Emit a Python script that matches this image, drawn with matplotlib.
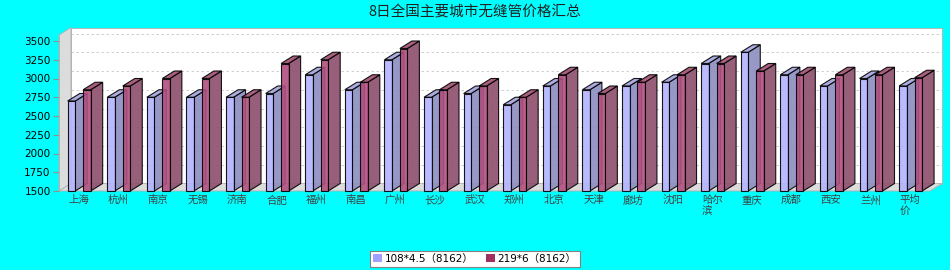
import matplotlib
matplotlib.use("Agg")
import matplotlib.pyplot as plt
from matplotlib.patches import Polygon, Patch

plt.rcParams['font.family'] = ['DejaVu Sans', 'Noto Sans CJK SC']

categories = ["上海", "杭州", "南京", "无锡", "济南", "合肥", "福州", "南昌", "广州", "长沙",
              "武汉", "郑州", "北京", "天津", "廊坊", "沈阳", "哈尔\n滨", "重庆", "成都", "西安",
              "兰州", "平均\n价"]
series1 = [2700, 2750, 2750, 2750, 2750, 2800, 3050, 2850, 3250, 2750,
           2800, 2650, 2900, 2850, 2900, 2950, 3200, 3350, 3050, 2900,
           3000, 2900]
series2 = [2850, 2900, 3000, 3000, 2750, 3200, 3250, 2950, 3400, 2850,
           2900, 2750, 3050, 2800, 2950, 3050, 3200, 3100, 3050, 3050,
           3050, 3010]
series_names = ["108*4.5（8162）", "219*6（8162）"]
yticks = [1500, 1750, 2000, 2250, 2500, 2750, 3000, 3250, 3500]
title = "8日全国主要城市无缝管价格汇总"

W, H = 950, 270
fig = plt.figure(figsize=(W / 100, H / 100), dpi=100)
fig.patch.set_facecolor("#00ffff")

ax_l, ax_r, ax_b, ax_t = 59, 930, 191, 35
ax = fig.add_axes([ax_l / W, (H - ax_b) / H, (ax_r - ax_l) / W, (ax_b - ax_t) / H])
ax.set_facecolor("none")
n = len(categories)
ymin = 1500
ytop = 1500 + (ax_b - ax_t) / 0.075
ax.set_xlim(0, n)
ax.set_ylim(ymin, ytop)

px_per_cat = (ax_r - ax_l) / n
dx = 12 / px_per_cat
dy = 7.5 / 0.075

wall_edge = "#b0b0b0"
# back wall
ax.add_patch(Polygon([(dx, ymin + dy), (n + dx, ymin + dy), (n + dx, ytop + dy), (dx, ytop + dy)],
                     closed=True, facecolor="white", edgecolor=wall_edge, lw=0.6, clip_on=False, zorder=0))
# left wall
ax.add_patch(Polygon([(0, ymin), (dx, ymin + dy), (dx, ytop + dy), (0, ytop)],
                     closed=True, facecolor="#dcdcdc", edgecolor=wall_edge, lw=0.6, clip_on=False, zorder=0.5))
# floor
ax.add_patch(Polygon([(0, ymin), (n, ymin), (n + dx, ymin + dy), (dx, ymin + dy)],
                     closed=True, facecolor="#dcdcdc", edgecolor=wall_edge, lw=0.6, clip_on=False, zorder=0.5))
# gridlines on back wall
for v in yticks[1:]:
    ax.plot([dx, n + dx], [v + dy, v + dy], color="#c8c8c8", lw=0.6, ls=(0, (3, 3)),
            clip_on=False, zorder=0.6)

colors = [
    dict(front="#b3b3ff", side="#8d8dc1", top="#a3a3dd"),
    dict(front="#b05080", side="#8d4e6c", top="#a04d70"),
]
offsets = [(0.22, 0.41), (0.61, 0.80)]

z = 1
for i in range(n):
    for s, vals in enumerate([series1, series2]):
        v = vals[i]
        x0 = i + offsets[s][0]
        x1 = i + offsets[s][1]
        c = colors[s]
        front = Polygon([(x0, ymin), (x1, ymin), (x1, v), (x0, v)], closed=True,
                        facecolor=c["front"], edgecolor="black", lw=0.8, alpha=0.9,
                        clip_on=False, zorder=z)
        top = Polygon([(x0, v), (x1, v), (x1 + dx, v + dy), (x0 + dx, v + dy)], closed=True,
                      facecolor=c["top"], edgecolor="black", lw=0.8, alpha=0.9,
                      clip_on=False, zorder=z)
        side = Polygon([(x1, ymin), (x1 + dx, ymin + dy), (x1 + dx, v + dy), (x1, v)], closed=True,
                       facecolor=c["side"], edgecolor="black", lw=0.8, alpha=0.9,
                       clip_on=False, zorder=z)
        ax.add_patch(side)
        ax.add_patch(top)
        ax.add_patch(front)
        z += 1

for sp in ["top", "right", "bottom"]:
    ax.spines[sp].set_visible(False)
ax.spines["left"].set_color(wall_edge)
ax.spines["left"].set_linewidth(0.6)

ax.set_yticks(yticks)
ax.set_yticklabels([str(t) for t in yticks], fontsize=7.5, color="black")
ax.tick_params(axis="y", length=4, width=0.8, color="#909090", pad=2)

ax.set_xticks([i + 0.5 for i in range(n)])
ax.set_xticklabels(categories, fontsize=7.5, color="#404040", multialignment="left",
                   family=["Noto Sans CJK SC", "DejaVu Sans"], linespacing=1.05)
ax.tick_params(axis="x", length=0, pad=3)

fig.text(0.5, 1 - 12 / H, title, ha="center", va="center", fontsize=10.5, color="#202020",
         family=["Noto Sans CJK SC", "DejaVu Sans"])

handles = [Patch(facecolor="#a0a0ff", edgecolor="none"), Patch(facecolor="#a03060", edgecolor="none")]
leg = fig.legend(handles, series_names, loc="center", bbox_to_anchor=(475 / W, 11 / H), ncol=2,
                 frameon=True, fancybox=False, edgecolor="#808080", facecolor="white", framealpha=1,
                 fontsize=7.5, handlelength=0.8, handleheight=0.8, handletextpad=0.3,
                 columnspacing=1.2, borderpad=0.3, borderaxespad=0)
leg.get_frame().set_linewidth(0.8)

fig.savefig("out.png", dpi=100, facecolor=fig.get_facecolor())
